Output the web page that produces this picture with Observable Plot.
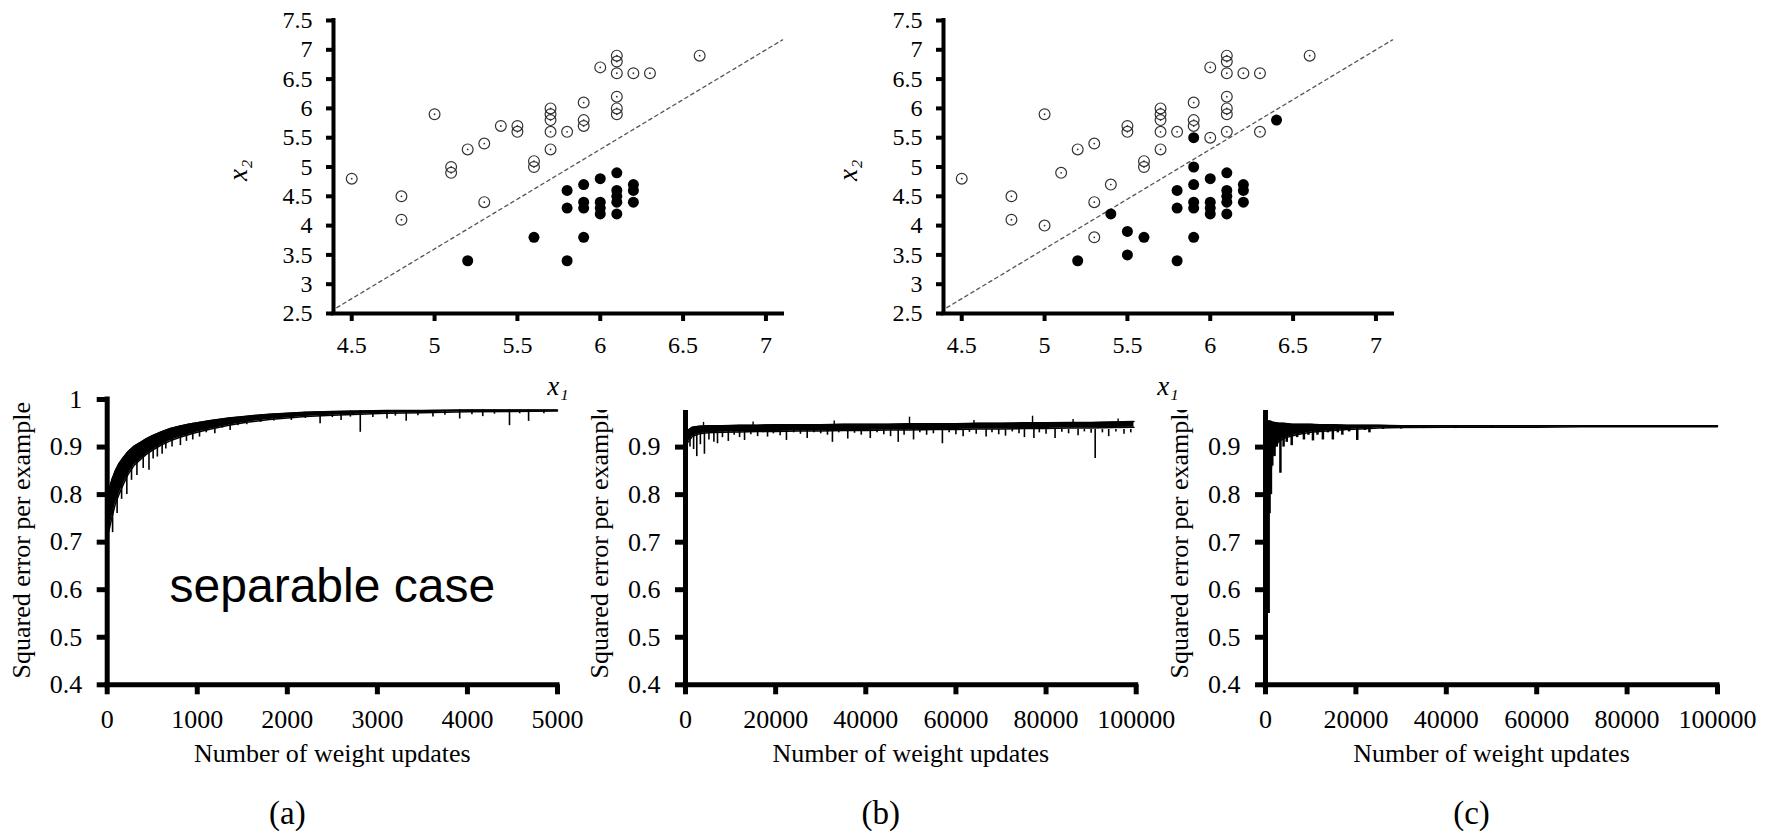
<!DOCTYPE html>
<html><head><meta charset="utf-8">
<script src="https://cdn.jsdelivr.net/npm/d3@7"></script>
<script src="https://cdn.jsdelivr.net/npm/@observablehq/plot@0.6"></script>
<style>
body{margin:0;background:#fff;}
#fig{position:relative;width:1781px;height:833px;overflow:hidden;background:#fff;}
.panel{position:absolute;overflow:hidden;}
</style></head><body><div id="fig"></div>
<script>
// ---------- scatter data (x1, x2) ----------
const sepOpenX = [4.5,4.8,4.8,5.0,5.1,5.1,5.2,5.3,5.3,5.4,5.5,5.5,5.6,5.6,5.7,5.7,5.7,5.7,5.7,5.8,5.9,5.9,5.9,6.0,6.1,6.1,6.1,6.1,6.1,6.1,6.2,6.3,6.6];
const sepOpenY = [4.8,4.5,4.1,5.9,5.0,4.9,5.3,5.4,4.4,5.7,5.7,5.6,5.1,5.0,6.0,5.9,5.8,5.6,5.3,5.6,6.1,5.8,5.7,6.7,6.9,6.8,6.6,6.2,6.0,5.9,6.6,6.6,6.9];
const sepFillX = [5.2,5.6,5.8,5.8,5.8,5.9,5.9,5.9,5.9,6.0,6.0,6.0,6.0,6.1,6.1,6.1,6.1,6.1,6.2,6.2,6.2];
const sepFillY = [3.4,3.8,3.4,4.6,4.3,4.7,4.4,4.3,3.8,4.8,4.4,4.3,4.2,4.9,4.6,4.5,4.4,4.2,4.7,4.6,4.4];

const nsOpenX = [4.5,4.8,4.8,5.0,5.0,5.1,5.2,5.3,5.3,5.3,5.4,5.5,5.5,5.6,5.6,5.7,5.7,5.7,5.7,5.7,5.8,5.9,5.9,5.9,6.0,6.0,6.1,6.1,6.1,6.1,6.1,6.1,6.1,6.2,6.3,6.3,6.6];
const nsOpenY = [4.8,4.5,4.1,5.9,4.0,4.9,5.3,5.4,4.4,3.8,4.7,5.7,5.6,5.1,5.0,6.0,5.9,5.8,5.6,5.3,5.6,6.1,5.8,5.7,6.7,5.5,6.9,6.8,6.6,6.2,6.0,5.9,5.6,6.6,6.6,5.6,6.9];
const nsFillX = [5.2,5.4,5.5,5.5,5.6,5.8,5.8,5.8,5.9,5.9,5.9,5.9,5.9,5.9,6.0,6.0,6.0,6.0,6.1,6.1,6.1,6.1,6.1,6.2,6.2,6.2,6.4];
const nsFillY = [3.4,4.2,3.9,3.5,3.8,3.4,4.6,4.3,5.5,5.0,4.7,4.4,4.3,3.8,4.8,4.4,4.3,4.2,4.9,4.6,4.5,4.4,4.2,4.7,4.6,4.4,5.8];

const boundaryX = [4.41, 7.1];
const boundaryY = [2.6, 7.17];

const scatterXDomain = [4.39, 7.1];
const scatterYDomain = [2.5, 7.5];
const scatterXTicks = [4.5, 5, 5.5, 6, 6.5, 7];
const scatterYTicks = [2.5, 3, 3.5, 4, 4.5, 5, 5.5, 6, 6.5, 7, 7.5];

// ---------- error curves: band envelope + spikes ----------
const aX  = [0,20,50,90,130,175,230,300,370,430,500,600,700,800,900,1000,1150,1350,1550,1800,2000,2200,2500,2800,3100,3500,4000,4500,5000];
const aHi = [0.79,0.81,0.83,0.85,0.865,0.877,0.89,0.902,0.91,0.917,0.924,0.932,0.939,0.944,0.948,0.951,0.956,0.961,0.965,0.969,0.971,0.973,0.975,0.976,0.977,0.977,0.978,0.978,0.978];
const aLo = [0.71,0.725,0.75,0.78,0.80,0.82,0.842,0.862,0.874,0.884,0.893,0.904,0.913,0.92,0.926,0.931,0.938,0.946,0.952,0.958,0.961,0.964,0.967,0.969,0.971,0.972,0.974,0.975,0.976];
const aSpikeX  = [60,110,160,218,270,330,400,464,510,557,610,651,720,813,880,950,1025,1100,1195,1280,1365,1450,1550,1704,1850,2045,2200,2364,2500,2597,2700,2810,2950,3107,3200,3320,3450,3617,3750,3914,4050,4170,4300,4467,4580,4679,4849];
const aSpikeLo = [0.72,0.76,0.79,0.80,0.83,0.84,0.855,0.851,0.875,0.879,0.885,0.896,0.9,0.903,0.912,0.915,0.921,0.93,0.928,0.94,0.935,0.945,0.947,0.952,0.955,0.956,0.96,0.949,0.962,0.956,0.963,0.931,0.962,0.959,0.965,0.954,0.966,0.963,0.967,0.959,0.968,0.964,0.969,0.945,0.97,0.954,0.97];
const aSpikeHi = [0.835,0.855,0.87,0.88,0.893,0.905,0.913,0.918,0.922,0.926,0.93,0.933,0.938,0.944,0.947,0.95,0.952,0.954,0.956,0.958,0.961,0.962,0.964,0.967,0.969,0.971,0.973,0.974,0.975,0.975,0.976,0.976,0.977,0.977,0.977,0.977,0.977,0.977,0.977,0.978,0.978,0.978,0.978,0.978,0.978,0.978,0.978];

const bX  = [0,500,1500,3000,5000,8000,12000,16000,20000,25000,30000,35000,40000,45000,50000,55000,60000,65000,70000,75000,80000,85000,90000,95000,99500];
const bHi = [0.915,0.935,0.942,0.944,0.945,0.945,0.946,0.946,0.947,0.947,0.947,0.948,0.948,0.948,0.949,0.949,0.949,0.950,0.950,0.951,0.951,0.952,0.952,0.953,0.954];
const bLo = [0.895,0.91,0.922,0.928,0.930,0.931,0.932,0.933,0.933,0.934,0.934,0.935,0.935,0.936,0.936,0.937,0.937,0.938,0.938,0.939,0.939,0.94,0.94,0.941,0.942];
const bSpikeX  = [1000,1800,2500,3300,4200,5200,6300,7100,8200,9500,10800,12000,13100,14500,16000,17200,18200,19500,21000,22400,24000,25500,27000,28500,30000,31500,32600,34000,36000,37500,39000,41000,42500,44000,45500,47200,48500,50600,52000,53500,55000,57000,58500,60000,61600,63000,64500,66700,68000,69500,71000,72500,74000,75200,77300,78500,80000,82000,83500,85000,87100,88500,90000,90900,92500,93900,95500,97300,98800];
const bSpikeLo = [0.90,0.895,0.88,0.905,0.885,0.915,0.91,0.907,0.92,0.912,0.925,0.92,0.914,0.926,0.922,0.93,0.921,0.928,0.924,0.914,0.93,0.927,0.918,0.93,0.928,0.925,0.91,0.93,0.917,0.929,0.925,0.918,0.93,0.926,0.922,0.91,0.925,0.915,0.93,0.925,0.928,0.907,0.93,0.926,0.922,0.931,0.927,0.921,0.93,0.926,0.923,0.932,0.928,0.92,0.918,0.93,0.927,0.918,0.931,0.928,0.924,0.932,0.929,0.876,0.93,0.922,0.932,0.927,0.93];
const bSpikeTop = 0.937;
const bUpX = [4000,15000,33000,49700,64000,77000,86000,96000];
const bUpY = [0.952,0.953,0.955,0.963,0.956,0.965,0.958,0.959];
const bUpBase = 0.945;

const cX  = [0,300,600,1000,1500,2000,3000,4000,5000,6000,8000,10000,12000,15000,18000,21000,25000,30000,40000,50000,60000,70000,80000,90000,100000];
const cHi = [0.95,0.952,0.955,0.955,0.953,0.952,0.95,0.95,0.949,0.948,0.948,0.948,0.947,0.947,0.946,0.946,0.946,0.945,0.945,0.945,0.945,0.945,0.945,0.945,0.945];
const cLo = [0.78,0.78,0.79,0.82,0.88,0.9,0.912,0.918,0.921,0.924,0.928,0.931,0.933,0.935,0.937,0.938,0.94,0.941,0.942,0.942,0.942,0.943,0.943,0.943,0.943];
const cSpikeX  = [200,450,700,900,1200,1500,2000,2500,3300,4000,4700,5800,7000,8500,9500,10500,11500,12700,13800,14900,16000,17000,18500,20300,22000,23000,26000,30000,35000,42000,50000];
const cSpikeLo = [0.6,0.7,0.55,0.76,0.8,0.86,0.88,0.9,0.845,0.9,0.91,0.903,0.92,0.915,0.925,0.913,0.925,0.915,0.93,0.915,0.93,0.925,0.932,0.914,0.935,0.93,0.937,0.938,0.939,0.939,0.94];
const cSpikeTop = 0.944;

const errYTicks = [0.4,0.5,0.6,0.7,0.8,0.9,1];
const errYTicksCut = [0.4,0.5,0.6,0.7,0.8,0.9];
const aXTicks = [0,1000,2000,3000,4000,5000];
const bcXTicks = [0,20000,40000,60000,80000,100000];

const yLabel = "Squared error per example";
const xLabel = "Number of weight updates";
const captions = ["(a)", "(b)", "(c)"];
const annotation = "separable case";

// ---------- helpers ----------
const SERIF = "'Liberation Serif','Times New Roman',serif";
const zip = (xs, ys) => xs.map((x, i) => ({x, y: ys[i]}));
const fig = document.getElementById("fig");
function place(node, left, top, w, h) {
  const d = document.createElement("div");
  d.className = "panel";
  Object.assign(d.style, {left: left + "px", top: top + "px", width: w + "px", height: h + "px"});
  d.appendChild(node);
  fig.appendChild(d);
}

function scatter(openX, openY, fillX, fillY) {
  const open = zip(openX, openY), filled = zip(fillX, fillY), line = zip(boundaryX, boundaryY);
  return Plot.plot({
    width: 600, height: 425,
    marginLeft: 133, marginRight: 18, marginTop: 20, marginBottom: 112,
    x: {domain: scatterXDomain, axis: null},
    y: {domain: scatterYDomain, axis: null},
    style: {fontFamily: SERIF, fontSize: "24px", color: "#000", background: "transparent"},
    marks: [
      Plot.line(line, {x: "x", y: "y", stroke: "#555", strokeWidth: 1.3, strokeDasharray: "3.5,3.5"}),
      Plot.dot(open, {x: "x", y: "y", r: 5.4, stroke: "#333", strokeWidth: 1.2, fill: "none"}),
      Plot.dot(open, {x: "x", y: "y", r: 0.9, fill: "#333"}),
      Plot.dot(filled, {x: "x", y: "y", r: 5.5, fill: "#000"}),
      Plot.axisX({ticks: scatterXTicks, tickSize: 8, tickPadding: 14, strokeWidth: 4, tickFormat: d => String(d), label: null}),
      Plot.axisY({ticks: scatterYTicks, tickSize: 7, tickPadding: 14, strokeWidth: 4, tickFormat: d => String(d), label: null}),
      Plot.ruleY([scatterYDomain[0]], {strokeWidth: 4, strokeLinecap: "square"}),
      Plot.ruleX([scatterXDomain[0]], {strokeWidth: 4, strokeLinecap: "square"}),
      Plot.text(["x₁"], {frameAnchor: "bottom", dy: 81, fontStyle: "italic", fontSize: 27}),
      Plot.text(["x₂"], {frameAnchor: "left", dx: -95, dy: 14, rotate: -90, fontStyle: "italic", fontSize: 27})
    ]
  });
}

function errChart(o) {
  const band = o.xs.map((x, i) => ({x, lo: o.lo[i], hi: o.hi[i]}));
  const spikes = o.sx.map((x, i) => ({x, y1: o.slo[i], y2: o.shi ? o.shi[i] : o.stop}));
  const marks = [
    Plot.areaY(band, {x: "x", y1: "lo", y2: "hi", fill: "#000"}),
    Plot.line(band, {x: "x", y: "hi", stroke: "#000", strokeWidth: 1.5}),
    Plot.line(band, {x: "x", y: "lo", stroke: "#000", strokeWidth: 1.5}),
    Plot.ruleX(spikes, {x: "x", y1: "y1", y2: "y2", stroke: "#000", strokeWidth: o.spikeW || 1.6})
  ];
  if (o.ux) marks.push(Plot.ruleX(o.ux.map((x, i) => ({x, y: o.uy[i]})), {x: "x", y1: () => o.ubase, y2: "y", stroke: "#000", strokeWidth: 1.4}));
  marks.push(
    Plot.axisX({ticks: o.xTicks, tickSize: 10, tickPadding: 15, strokeWidth: 5, tickFormat: d => String(d), label: null}),
    Plot.axisY({ticks: o.yTicks, tickSize: 10, tickPadding: 15, strokeWidth: 5, tickFormat: d => String(d), label: null}),
    Plot.ruleY([o.yDomain[0]], {strokeWidth: 5, strokeLinecap: "square"}),
    Plot.ruleX([o.xDomain[0]], {strokeWidth: 5, strokeLinecap: "square"}),
    Plot.text([yLabel], {x: () => o.xDomain[0], y: () => 0.7, dx: -86, dy: -2, rotate: -90, fontSize: 26}),
    Plot.text([xLabel], {frameAnchor: "bottom", dy: 77, fontSize: 26}),
    Plot.text([o.caption], {frameAnchor: "bottom", dy: 139, dx: o.capDx, fontSize: 33})
  );
  if (o.note) marks.push(Plot.text([o.note], {frameAnchor: "middle", dy: 44, fontSize: 48, fontFamily: "'Liberation Sans',Arial,sans-serif"}));
  return Plot.plot({
    width: o.width, height: o.height,
    marginLeft: o.ml, marginRight: o.mr, marginTop: o.mt, marginBottom: o.mb,
    x: {domain: o.xDomain, axis: null},
    y: {domain: o.yDomain, axis: null},
    style: {fontFamily: SERIF, fontSize: "26px", color: "#000", background: "transparent"},
    marks
  });
}

// ---------- layout ----------
place(errChart({xs: aX, hi: aHi, lo: aLo, sx: aSpikeX, slo: aSpikeLo, shi: aSpikeHi,
  xDomain: [0, 5000], xTicks: aXTicks, yDomain: [0.4, 1], yTicks: errYTicks,
  width: 600, height: 453, ml: 106.7, mr: 43, mt: 19, mb: 148.7, caption: captions[0], capDx: -45, note: annotation}), 0, 380, 600, 453);
place(errChart({xs: bX, hi: bHi, lo: bLo, sx: bSpikeX, slo: bSpikeLo, stop: bSpikeTop, ux: bUpX, uy: bUpY, ubase: bUpBase,
  xDomain: [0, 100000], xTicks: bcXTicks, yDomain: [0.4, 0.977], yTicks: errYTicksCut,
  width: 600, height: 423, ml: 107, mr: 42.3, mt: 0, mb: 148.7, caption: captions[1], capDx: -30}), 578, 410, 600, 423);
place(errChart({xs: cX, hi: cHi, lo: cLo, sx: cSpikeX, slo: cSpikeLo, stop: cSpikeTop, spikeW: 2.5,
  xDomain: [0, 100000], xTicks: bcXTicks, yDomain: [0.4, 0.977], yTicks: errYTicksCut,
  width: 600, height: 423, ml: 107, mr: 41, mt: 0, mb: 148.7, caption: captions[2], capDx: -20}), 1158, 410, 600, 423);
place(scatter(sepOpenX, sepOpenY, sepFillX, sepFillY), 200, 0, 600, 425);
place(scatter(nsOpenX, nsOpenY, nsFillX, nsFillY), 810, 0, 600, 425);
</script></body></html>
